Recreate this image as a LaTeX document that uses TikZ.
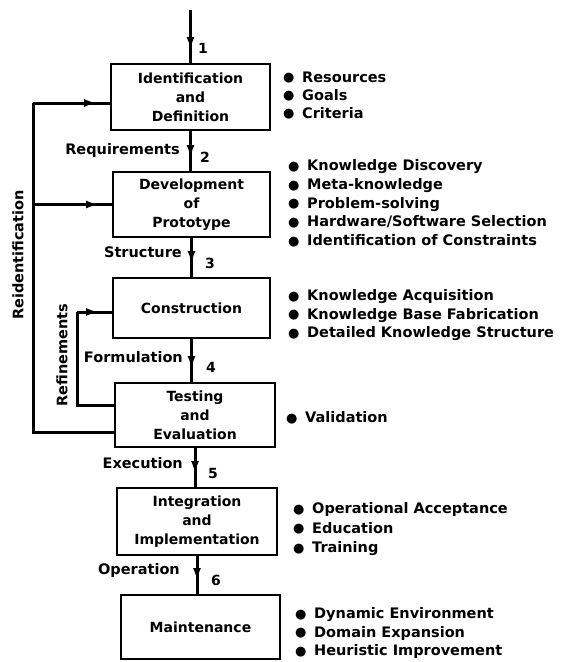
\documentclass[tikz,border=0pt]{standalone}
\usepackage{fontspec}
\setmainfont{DejaVu Sans}
\usetikzlibrary{arrows.meta,decorations.markings}
\newcommand\bul{\makebox[19pt][l]{\fontsize{13}{13}\selectfont\raisebox{0.3pt}{●}}}
\tikzset{
  box/.style={draw, line width=2pt, align=center, inner sep=0pt,
    font=\bfseries\fontsize{14}{19}\selectfont},
  flow/.style={line width=3pt, postaction={decorate},
    decoration={markings, mark=at position -13pt with {\arrow{Latex[length=13pt,width=8pt]}}}},
  fb/.style={line width=3pt},
  lbl/.style={font=\bfseries\fontsize{14.5}{16}\selectfont, inner sep=0pt},
  num/.style={font=\bfseries\fontsize{14}{16}\selectfont, inner sep=0pt},
  lst/.style={align=left, anchor=north west, inner sep=0pt},
}
\begin{document}
\begin{tikzpicture}[x=1pt,y=-1pt]
\useasboundingbox (0,0) rectangle (563,662);
% boxes
\node[box, minimum width=159pt, minimum height=66pt] (b1) at (190.5,97) {Identification\\and\\Definition};
\node[box, minimum width=157pt, minimum height=65pt] (b2) at (191.5,204.5) {Development\\of\\Prototype};
\node[box, minimum width=157pt, minimum height=60pt] (b3) at (191.5,308) {Construction};
\node[box, minimum width=160pt, minimum height=64pt] (b4) at (195,415) {Testing\\and\\Evaluation};
\node[box, minimum width=160pt, minimum height=67pt] (b5) at (197,521.5) {Integration\\and\\Implementation};
\node[box, minimum width=159pt, minimum height=64pt] (b6) at (200.5,627) {Maintenance};
% main flow
\coordinate (start) at (188,10);
\draw[flow] (b1.north |- start) -- (b1.north);
\draw[flow] (b1.south) -- (b1.south |- b2.north);
\draw[flow] (b2.south) -- (b2.south |- b3.north);
\draw[flow] (b3.south) -- (b3.south |- b4.north);
\draw[flow] (b4.south) -- (b4.south |- b5.north);
\draw[flow] (b5.south) -- (b5.south |- b6.north);
% numbers
\node[num] (n1) at (203,48) {1};
\node[num] (n2) at (205,157) {2};
\node[num] (n3) at (210,263) {3};
\node[num] (n4) at (211,367) {4};
\node[num] (n5) at (213,473) {5};
\node[num] (n6) at (216,580) {6};
% edge labels
\node[lbl, anchor=east] (l2) at (180,150) {Requirements};
\node[lbl, anchor=east] (l3) at (182,252) {Structure};
\node[lbl, anchor=east] (l4) at (183,357) {Formulation};
\node[lbl, anchor=east] (l5) at (183,463) {Execution};
\node[lbl, anchor=east] (l6) at (180,570) {Operation};
% reidentification loop
\coordinate (rx) at (33,0);
\coordinate (r1) at ([yshift=-6pt]b1.west -| rx);
\draw[fb] ([yshift=-17pt]b4.west) -| (r1);
\draw[flow] (r1) -- ([yshift=-6pt]b1.west);
\draw[flow] (rx |- b2.west) -- (b2.west);
\node[lbl, rotate=90] (reid) at (18,255) {Reidentification};
% refinements loop
\coordinate (fx) at (77,0);
\coordinate (f1) at ([yshift=-4pt]b3.west -| fx);
\draw[fb] ([yshift=10pt]b4.west) -| (f1);
\draw[flow] (f1) -- ([yshift=-4pt]b3.west);
\node[lbl, rotate=90] (refi) at (62,355) {Refinements};
% lists
\node[lst, font=\bfseries\fontsize{14.5}{18}\selectfont] (L1) at (283,71.5)
  {\bul Resources\\ \bul Goals\\ \bul Criteria};
\node[lst, font=\bfseries\fontsize{14.5}{18.7}\selectfont] (L2) at (288,159.5)
  {\bul Knowledge Discovery\\ \bul Meta-knowledge\\ \bul Problem-solving\\ \bul Hardware/Software Selection\\ \bul Identification of Constraints};
\node[lst, font=\bfseries\fontsize{14.5}{18.5}\selectfont] (L3) at (288,289.5)
  {\bul Knowledge Acquisition\\ \bul Knowledge Base Fabrication\\ \bul Detailed Knowledge Structure};
\node[lst, font=\bfseries\fontsize{14.5}{18.5}\selectfont] (L4) at (286,411.5)
  {\bul Validation};
\node[lst, font=\bfseries\fontsize{14.5}{19.5}\selectfont] (L5) at (293,502.5)
  {\bul Operational Acceptance\\ \bul Education\\ \bul Training};
\node[lst, font=\bfseries\fontsize{14.5}{18.5}\selectfont] (L6) at (295,607.5)
  {\bul Dynamic Environment\\ \bul Domain Expansion\\ \bul Heuristic Improvement};
\end{tikzpicture}
\end{document}
